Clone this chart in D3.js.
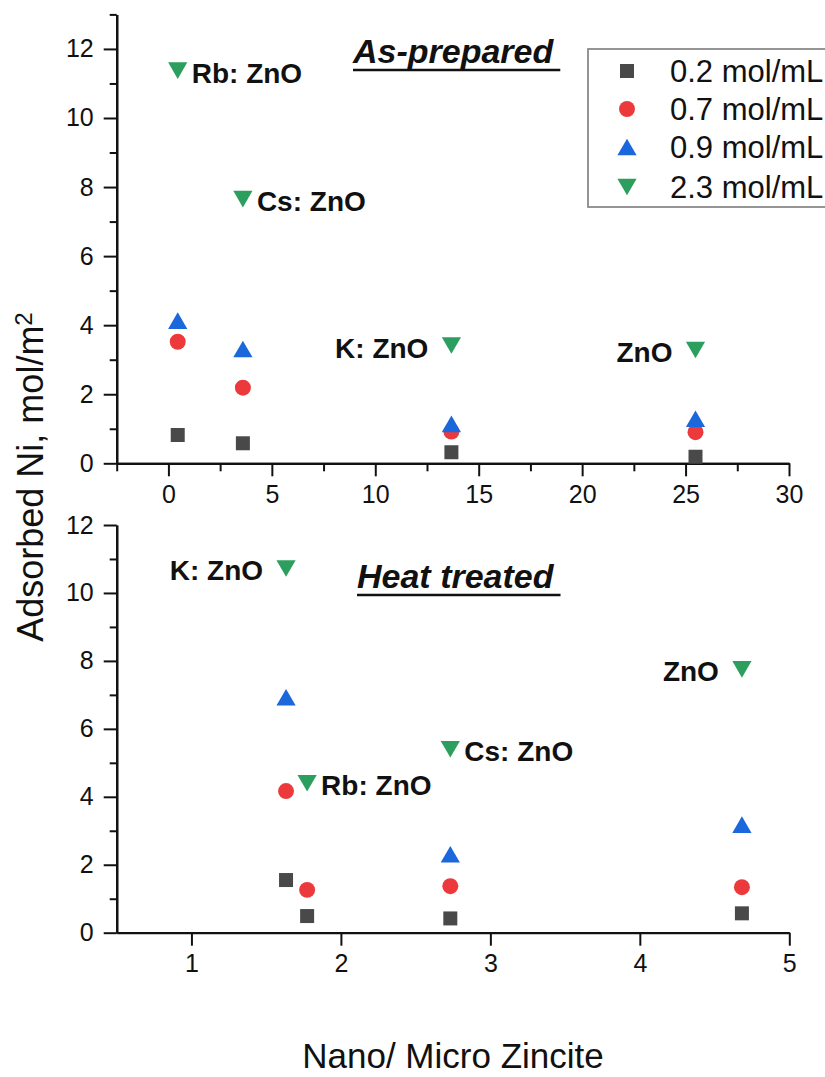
<!DOCTYPE html>
<html>
<head>
<meta charset="utf-8">
<script src="https://cdn.jsdelivr.net/npm/d3@7"></script>
<style>
  html, body { margin: 0; padding: 0; background: #fff; }
  svg { display: block; }
  text { font-family: "Liberation Sans", Arial, sans-serif; fill: #111; }
</style>
</head>
<body>
<svg id="chart" width="825" height="1077"></svg>
<script>
// ---------- data ----------
const seriesNames = ["0.2 mol/mL", "0.7 mol/mL", "0.9 mol/mL", "2.3 mol/mL"];
const seriesColors = ["#494949", "#ec3a3c", "#1b67dc", "#2c9f5e"];

// Top panel: "As-prepared"
const topX = [0.45, 3.6, 13.68, 25.48];
const top02 = [0.82, 0.58, 0.32, 0.19];
const top07 = [3.52, 2.19, 0.92, 0.90];
const top09 = [4.13, 3.31, 1.14, 1.29];
const top23 = [11.37, 7.65, 3.41, 3.28];
const topLabels = ["Rb: ZnO", "Cs: ZnO", "K: ZnO", "ZnO"];
const topLabelSide = ["start", "start", "end", "end"];

// Bottom panel: "Heat treated"
const botX02 = [1.633, 1.774, 2.732, 4.683];
const bot02 = [1.55, 0.49, 0.42, 0.57];
const botX07 = [1.633, 1.774, 2.732, 4.683];
const bot07 = [4.17, 1.26, 1.37, 1.34];
const botX09 = [1.633, 2.732, 4.683];
const bot09 = [6.93, 2.31, 3.18];
const botX23 = [1.633, 1.774, 2.732, 4.683];
const bot23 = [10.72, 4.40, 5.40, 7.75];
const botLabels = ["K: ZnO", "Rb: ZnO", "Cs: ZnO", "ZnO"];
const botLabelSide = ["end", "start", "start", "end"];

const topXTicks = [0, 5, 10, 15, 20, 25, 30];
const topXMinor = [-2.5, 2.5, 7.5, 12.5, 17.5, 22.5, 27.5];
const topYTicks = [0, 2, 4, 6, 8, 10, 12];
const topYMinor = [1, 3, 5, 7, 9, 11, 13];
const botXTicks = [1, 2, 3, 4, 5];
const botYTicks = [0, 2, 4, 6, 8, 10, 12];
const botYMinor = [1, 3, 5, 7, 9, 11];

const titleTop = "As-prepared";
const titleBot = "Heat treated";
const xTitle = "Nano/ Micro Zincite";

// ---------- symbols ----------
const triUp = { draw(ctx, size) {
  const w = Math.sqrt(4 * size / Math.sqrt(3)), h = Math.sqrt(3) / 2 * w;
  ctx.moveTo(0, -h / 2); ctx.lineTo(w / 2, h / 2); ctx.lineTo(-w / 2, h / 2); ctx.closePath();
}};
const triDown = { draw(ctx, size) {
  const w = Math.sqrt(4 * size / Math.sqrt(3)), h = Math.sqrt(3) / 2 * w;
  ctx.moveTo(0, h / 2); ctx.lineTo(w / 2, -h / 2); ctx.lineTo(-w / 2, -h / 2); ctx.closePath();
}};
const symTypes = [d3.symbolSquare, d3.symbolCircle, triUp, triDown];
const symSizes = [196, 200, 160, 160];

const svg = d3.select("#chart");

// ---------- scales ----------
const xTop = d3.scaleLinear().domain([-2.5, 30]).range([116.7, 789]);
const yTop = d3.scaleLinear().domain([0, 13]).range([463.3, 14.4]);
const xBot = d3.scaleLinear().domain([0.5, 5]).range([116.7, 789.3]);
const yBot = d3.scaleLinear().domain([0, 12]).range([932.7, 525]);

function styleAxis(g) {
  g.selectAll("path.domain").attr("stroke", "#111").attr("stroke-width", 2.2);
  g.selectAll(".tick line").attr("stroke", "#111").attr("stroke-width", 2);
  g.selectAll(".tick text").attr("font-size", 25).attr("fill", "#1a1a1a")
    .attr("font-family", "Liberation Sans, Arial, sans-serif");
}

function drawPanel(xs, ys, xTicks, xMinor, yTicks, yMinor) {
  const y0 = ys.range()[0], x0 = xs.range()[0];
  const fmt = d3.format("d");
  if (xMinor) {
    const gm = svg.append("g").attr("transform", `translate(0,${y0})`)
      .call(d3.axisBottom(xs).tickValues(xMinor).tickFormat("").tickSize(8).tickSizeOuter(0));
    styleAxis(gm);
  }
  const gx = svg.append("g").attr("transform", `translate(0,${y0})`)
    .call(d3.axisBottom(xs).tickValues(xTicks).tickFormat(fmt).tickSize(13).tickPadding(9).tickSizeOuter(0));
  styleAxis(gx);
  if (yMinor) {
    const gm = svg.append("g").attr("transform", `translate(${x0},0)`)
      .call(d3.axisLeft(ys).tickValues(yMinor).tickFormat("").tickSize(7).tickSizeOuter(0));
    styleAxis(gm);
  }
  const gy = svg.append("g").attr("transform", `translate(${x0},0)`)
    .call(d3.axisLeft(ys).tickValues(yTicks).tickFormat(fmt).tickSize(13).tickPadding(10).tickSizeOuter(0));
  styleAxis(gy);
}

drawPanel(xTop, yTop, topXTicks, topXMinor, topYTicks, topYMinor);
drawPanel(xBot, yBot, botXTicks, null, botYTicks, botYMinor);

function drawSeries(xs, ys, xv, yv, si) {
  svg.append("g").selectAll("path").data(yv).join("path")
    .attr("d", d3.symbol().type(symTypes[si]).size(symSizes[si]))
    .attr("transform", (d, i) => `translate(${xs(xv[i])},${ys(d)})`)
    .attr("fill", seriesColors[si]);
}

[top02, top07, top09, top23].forEach((v, si) => drawSeries(xTop, yTop, topX, v, si));
drawSeries(xBot, yBot, botX02, bot02, 0);
drawSeries(xBot, yBot, botX07, bot07, 1);
drawSeries(xBot, yBot, botX09, bot09, 2);
drawSeries(xBot, yBot, botX23, bot23, 3);

function drawLabels(xs, ys, xv, yv, labels, sides) {
  svg.append("g").selectAll("text").data(labels).join("text")
    .attr("x", (d, i) => xs(xv[i]) + (sides[i] === "start" ? 14 : -23))
    .attr("y", (d, i) => ys(yv[i]) + 12)
    .attr("text-anchor", (d, i) => sides[i])
    .attr("font-size", 28).attr("font-weight", "bold")
    .text(d => d);
}
drawLabels(xTop, yTop, topX, top23, topLabels, topLabelSide);
drawLabels(xBot, yBot, botX23, bot23, botLabels, botLabelSide);

// ---------- titles ----------
function panelTitle(txt, x, y) {
  const t = svg.append("text").attr("x", x).attr("y", y)
    .attr("font-size", 34).attr("font-weight", "bold").attr("font-style", "italic")
    .text(txt);
  const w = t.node().getComputedTextLength();
  svg.append("line").attr("x1", x).attr("x2", x + w + 7)
    .attr("y1", y + 7).attr("y2", y + 7)
    .attr("stroke", "#111").attr("stroke-width", 2.5);
}
panelTitle(titleTop, 353, 63);
panelTitle(titleBot, 357, 588);

// ---------- axis titles ----------
svg.append("text")
  .attr("x", (xBot.range()[0] + xBot.range()[1]) / 2)
  .attr("y", 1068).attr("text-anchor", "middle")
  .attr("font-size", 35).text(xTitle);

const yl = svg.append("text")
  .attr("transform", "translate(43,477) rotate(-90)")
  .attr("text-anchor", "middle").attr("font-size", 36);
yl.append("tspan").text("Adsorbed Ni, mol/m");
yl.append("tspan").attr("dy", "-0.45em").attr("font-size", 24).text("2");

// ---------- legend ----------
const lg = svg.append("g");
lg.append("rect").attr("x", 588).attr("y", 49).attr("width", 250).attr("height", 158)
  .attr("fill", "#fff").attr("stroke", "#8a8a8a").attr("stroke-width", 1.8);
const rowsY = [71, 109, 147, 187];
seriesNames.forEach((name, i) => {
  lg.append("path")
    .attr("d", d3.symbol().type(symTypes[i]).size(symSizes[i])())
    .attr("transform", `translate(627,${rowsY[i]})`)
    .attr("fill", seriesColors[i]);
  lg.append("text").attr("x", 670).attr("y", rowsY[i] + 11)
    .attr("font-size", 31).text(name);
});
</script>
</body>
</html>
